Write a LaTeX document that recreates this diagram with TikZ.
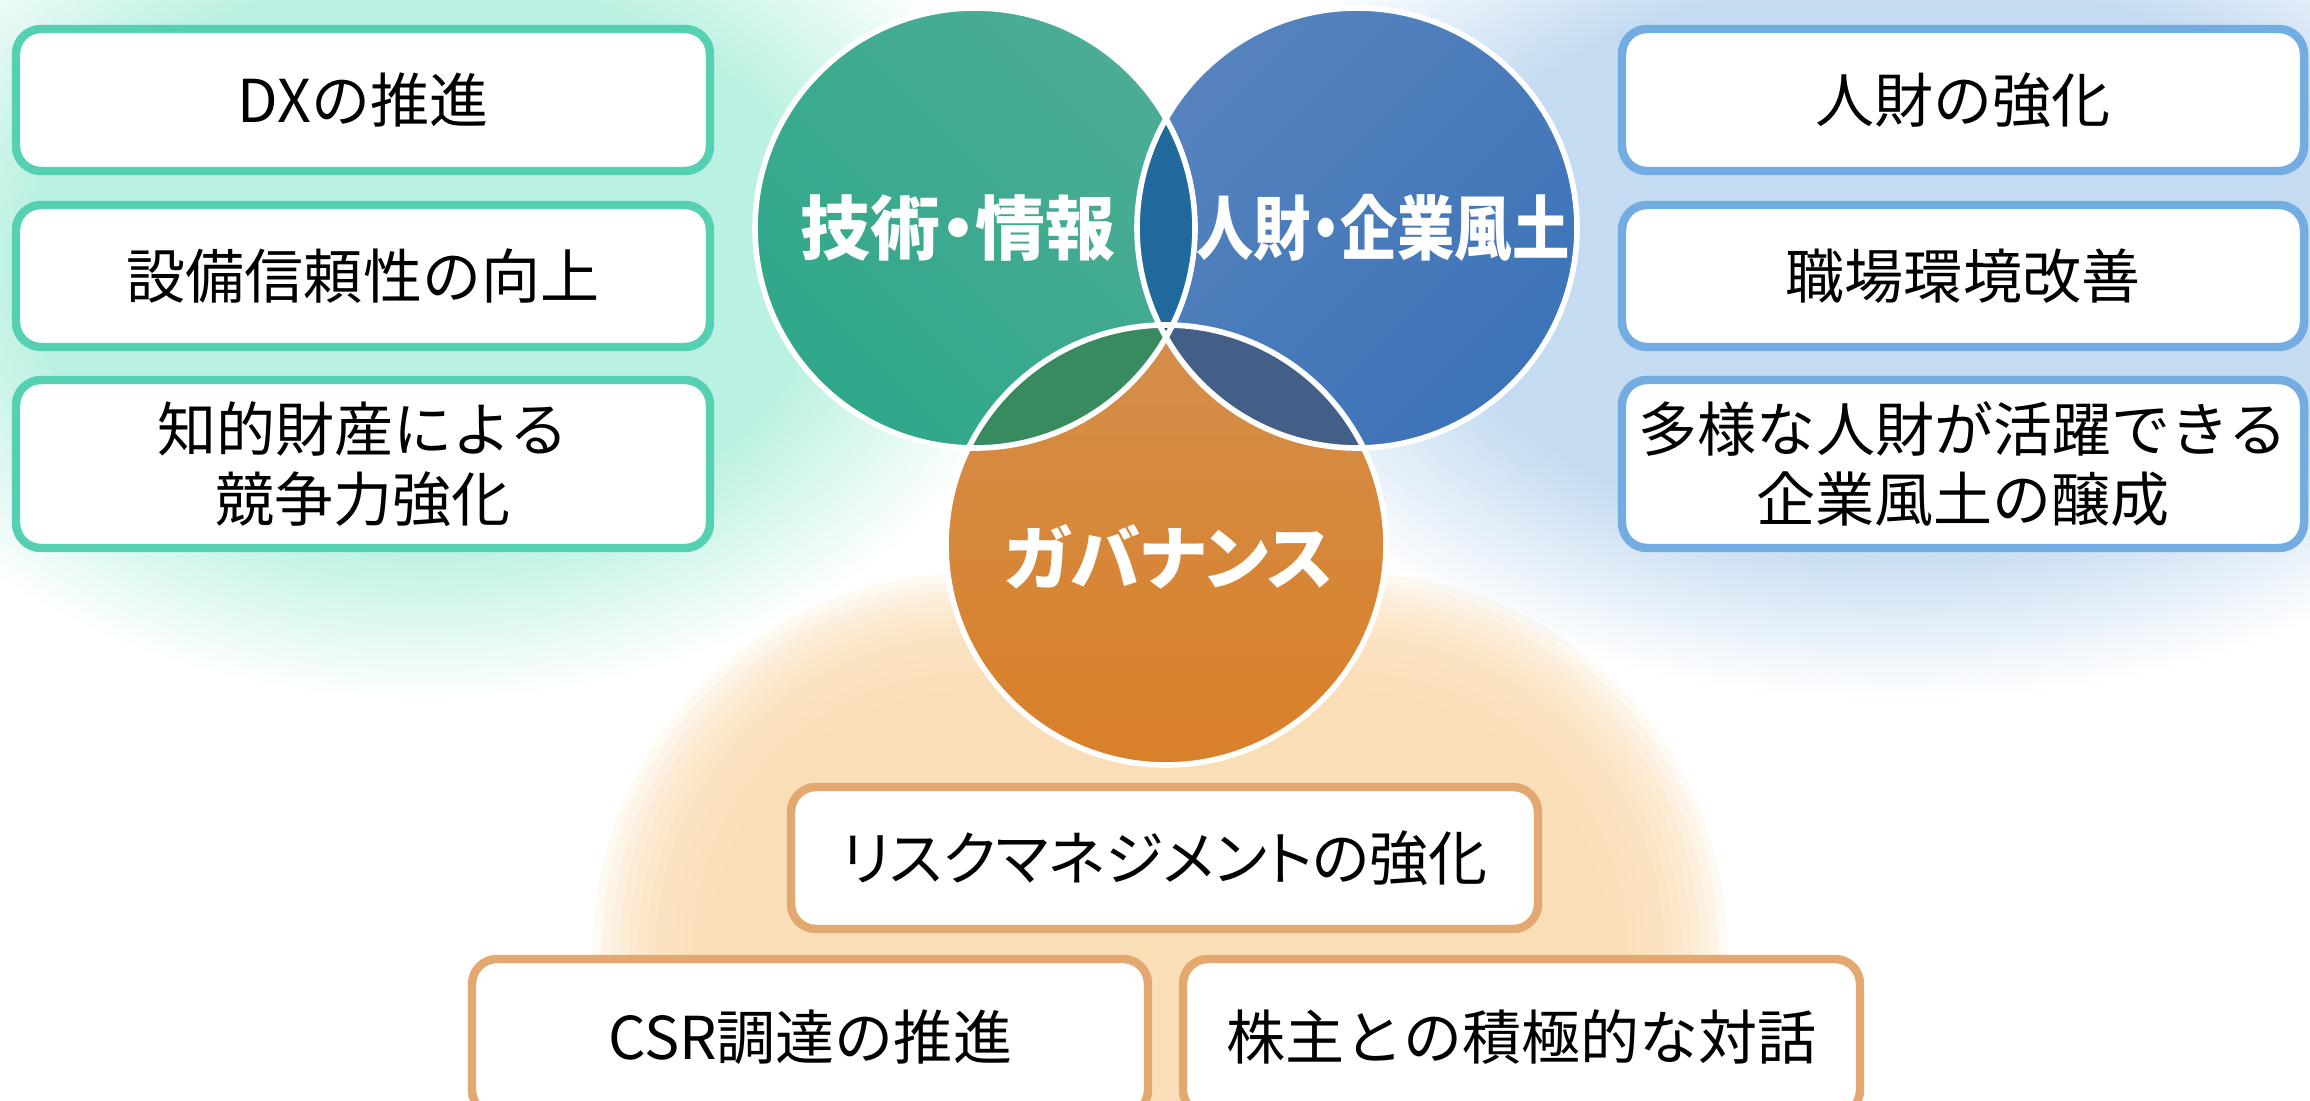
\documentclass[tikz,border=0pt]{standalone}
\usepackage{fontspec}
\setmainfont{Noto Sans CJK JP}
\newfontfamily\circfont[RawFeature=+palt]{Noto Sans CJK JP}
\usetikzlibrary{fadings}
\definecolor{mintglow}{HTML}{BBF1E2}
\definecolor{blueglow}{HTML}{C4DBF1}
\definecolor{peachglow}{HTML}{FADCB3}
\definecolor{greenb}{HTML}{55D0B3}
\definecolor{blueb}{HTML}{72ACE0}
\definecolor{orangeb}{HTML}{E3A870}
\definecolor{gTop}{HTML}{4CAC95}
\definecolor{gBot}{HTML}{2FA88A}
\definecolor{bTop}{HTML}{5683BE}
\definecolor{bBot}{HTML}{3C73B7}
\definecolor{oTop}{HTML}{D48E4A}
\definecolor{oBot}{HTML}{D98029}
\definecolor{lensGB}{HTML}{1F699D}
\definecolor{lensGO}{HTML}{378B5F}
\definecolor{lensBO}{HTML}{435F87}
\definecolor{lensAll}{HTML}{2A5A6A}
\pgfdeclareradialshading{glowshade}{\pgfpointorigin}{color(0bp)=(white); color(16bp)=(white); color(20bp)=(white!55!black); color(25bp)=(black); color(50bp)=(black)}
\pgfdeclarefading{glowfade}{\pgfuseshading{glowshade}}
\tikzset{
  itembox/.style={fill=white, line width=2.4pt, rounded corners=0.25cm, minimum height=1.42cm, align=center, inner sep=0pt, font=\fontsize{16.8pt}{20pt}\selectfont},
  gbox/.style={itembox, draw=greenb, minimum width=6.94cm},
  bbox/.style={itembox, draw=blueb, minimum width=6.82cm},
  obox/.style={itembox, draw=orangeb},
  circtext/.style={text=white, font=\circfont\bfseries\fontsize{19.9pt}{24pt}\selectfont, inner sep=0pt},
  ring/.style={draw=white, line width=1.6pt}
}
\begin{document}
\begin{tikzpicture}
\useasboundingbox (0,0) rectangle (23.1,-11);
% background glows
\fill[mintglow, path fading=glowfade] (4.25,-2.6) ellipse (6.2 and 4.4);
\fill[blueglow, path fading=glowfade] (19.0,-2.6) ellipse (7.2 and 4.4);
\foreach \i in {0,...,13}{
  \pgfmathsetmacro\rr{2.6+0.09*\i}
  \fill[peachglow, opacity=0.18, rounded corners=\rr cm]
    (7.1-0.09*\i,-6.9+0.09*\i) rectangle (16.1+0.09*\i,-12.5-0.09*\i);
}
% circles
\coordinate (cg) at (9.75,-2.28);
\coordinate (cb) at (13.57,-2.28);
\coordinate (co) at (11.66,-5.45);
\shade[top color=gTop, bottom color=gBot, shading angle=-45] (cg) circle (2.2);
\shade[top color=bTop, bottom color=bBot, shading angle=45] (cb) circle (2.2);
\shade[top color=oTop, bottom color=oBot] (co) circle (2.2);
\begin{scope}
  \clip (cg) circle (2.2);
  \fill[lensGB] (cb) circle (2.2);
  \fill[lensGO] (co) circle (2.2);
\end{scope}
\begin{scope}
  \clip (cb) circle (2.2);
  \fill[lensBO] (co) circle (2.2);
  \clip (cg) circle (2.2);
  \fill[lensAll] (co) circle (2.2);
\end{scope}
\draw[ring] (cg) circle (2.2);
\draw[ring] (cb) circle (2.2);
\draw[ring] (co) circle (2.2);
\node[circtext] (tech) at (9.58,-2.28) {技術・情報};
\node[circtext] (people) at (13.83,-2.28) {\scalebox{0.82}[1]{人財・企業風土}};
\node[circtext] (gov) at (11.69,-5.57) {ガバナンス};
% left boxes
\node[gbox] (l1) at (3.63,-1.00) {DXの推進};
\node[gbox] (l2) at (3.63,-2.76) {設備信頼性の向上};
\node[gbox, minimum height=1.68cm] (l3) at (3.63,-4.64) {知的財産による\\競争力強化};
% right boxes
\node[bbox] (r1) at (19.63,-1.00) {人財の強化};
\node[bbox] (r2) at (19.63,-2.76) {職場環境改善};
\node[bbox, minimum height=1.68cm] (r3) at (19.63,-4.64) {多様な人財が活躍できる\\企業風土の醸成};
% bottom boxes
\node[obox, minimum width=7.47cm] (b1) at (11.645,-8.58) {\circfont リスクマネジメントの強化};
\node[obox, minimum width=6.76cm, minimum height=1.56cm] (b2) at (8.10,-10.37) {CSR調達の推進};
\node[obox, minimum width=6.77cm, minimum height=1.56cm] (b3) at (15.215,-10.37) {株主との積極的な対話};
\end{tikzpicture}
\end{document}
